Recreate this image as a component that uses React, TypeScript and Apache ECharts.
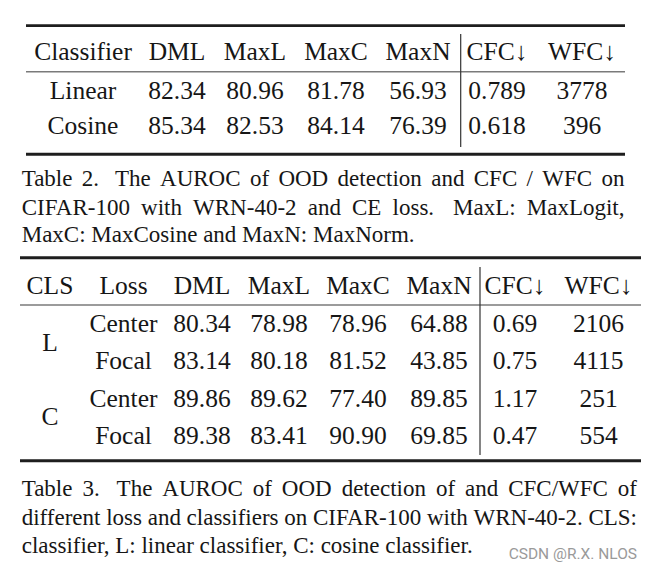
import React, { useEffect, useRef } from 'react';
import * as echarts from 'echarts';

// ---------- Table 2 data ----------
const t2Header = ['Classifier', 'DML', 'MaxL', 'MaxC', 'MaxN', 'CFC↓', 'WFC↓'];
const t2Classifiers = ['Linear', 'Cosine'];
const t2DML = [82.34, 85.34];
const t2MaxL = [80.96, 82.53];
const t2MaxC = [81.78, 84.14];
const t2MaxN = [56.93, 76.39];
const t2CFC = [0.789, 0.618];
const t2WFC = [3778, 396];
const t2Caption = [
  'Table 2.  The AUROC of OOD detection and CFC / WFC on',
  'CIFAR-100 with WRN-40-2 and CE loss.  MaxL: MaxLogit,',
  'MaxC: MaxCosine and MaxN: MaxNorm.',
];

// ---------- Table 3 data ----------
const t3Header = ['CLS', 'Loss', 'DML', 'MaxL', 'MaxC', 'MaxN', 'CFC↓', 'WFC↓'];
const t3Classifiers = ['L', 'C'];
const t3Losses = ['Center', 'Focal', 'Center', 'Focal'];
const t3DML = [80.34, 83.14, 89.86, 89.38];
const t3MaxL = [78.98, 80.18, 89.62, 83.41];
const t3MaxC = [78.96, 81.52, 77.4, 90.9];
const t3MaxN = [64.88, 43.85, 89.85, 69.85];
const t3CFC = [0.69, 0.75, 1.17, 0.47];
const t3WFC = [2106, 4115, 251, 554];
const t3Caption = [
  'Table 3.  The AUROC of OOD detection of and CFC/WFC of',
  'different loss and classifiers on CIFAR-100 with WRN-40-2. CLS:',
  'classifier, L: linear classifier, C: cosine classifier.',
];
const watermark = 'CSDN @R.X. NLOS';

// ---------- layout ----------
const SERIF = '"Liberation Serif", "Times New Roman", "DejaVu Serif", serif';
const FS = 25.5;
const CFS = 23;
const INK = '#161616';

function txt(s: string, x: number, baseline: number, fs: number, align = 'center', fill = INK, family = SERIF): any {
  return {
    type: 'text',
    x,
    y: baseline - 0.3375 * fs,
    silent: true,
    style: {
      text: s,
      fontSize: fs,
      fontFamily: family,
      fill,
      textAlign: align,
      textVerticalAlign: 'middle',
      align,
      verticalAlign: 'middle',
    },
  };
}

function hline(x1: number, x2: number, y: number, w: number, color: string): any {
  return { type: 'line', silent: true, shape: { x1, y1: y, x2, y2: y }, style: { stroke: color, lineWidth: w } };
}
function vline(x: number, y1: number, y2: number, w: number, color: string): any {
  return { type: 'line', silent: true, shape: { x1: x, y1, x2: x, y2 }, style: { stroke: color, lineWidth: w } };
}

let measureCtx: CanvasRenderingContext2D | null = null;
function measure(s: string, fs: number): number {
  if (!measureCtx) measureCtx = document.createElement('canvas').getContext('2d');
  measureCtx!.font = `${fs}px "Liberation Serif"`;
  return measureCtx!.measureText(s).width;
}

function captionLine(line: string, x0: number, x1: number, baseline: number, fs: number, justify: boolean): any[] {
  const tokens = line.split(/( +)/);
  const words: string[] = [];
  const weights: number[] = [];
  tokens.forEach((t, i) => {
    if (i % 2 === 0) words.push(t);
    else weights.push(t.length > 1 ? 1.7 : 1);
  });
  const spaceW = measure(' ', fs);
  const widths = words.map((w) => measure(w, fs));
  const totalW = widths.reduce((a, b) => a + b, 0);
  const totalWeight = weights.reduce((a, b) => a + b, 0);
  let unit = spaceW;
  if (justify && totalWeight > 0) unit = (x1 - x0 - totalW) / totalWeight;
  const out: any[] = [];
  let x = x0;
  words.forEach((w, i) => {
    out.push(txt(w, x, baseline, fs, 'left'));
    x += widths[i] + (i < weights.length ? weights[i] * unit : 0);
  });
  return out;
}

const f2 = (v: number) => v.toFixed(2);
const f3 = (v: number) => v.toFixed(3);
const f0 = (v: number) => v.toFixed(0);

function buildGraphics(): any[] {
  const g: any[] = [];

  // ----- Table 2 -----
  const c2 = [83, 177, 255, 336, 418, 497, 582];
  const t2L = 26, t2R = 625;
  g.push(hline(t2L, t2R, 25.7, 2.7, '#1e1e1e'));
  g.push(hline(t2L, t2R, 71.7, 1.6, '#7a7a7a'));
  g.push(hline(t2L, t2R, 154.3, 2.9, '#1e1e1e'));
  g.push(vline(460.7, 34, 147, 1.2, '#333'));
  t2Header.forEach((h, i) => g.push(txt(h, c2[i], 60, FS)));
  const t2Base = [99, 134.3];
  t2Classifiers.forEach((name, r) => {
    const y = t2Base[r];
    g.push(txt(name, c2[0], y, FS));
    g.push(txt(f2(t2DML[r]), c2[1], y, FS));
    g.push(txt(f2(t2MaxL[r]), c2[2], y, FS));
    g.push(txt(f2(t2MaxC[r]), c2[3], y, FS));
    g.push(txt(f2(t2MaxN[r]), c2[4], y, FS));
    g.push(txt(f3(t2CFC[r]), c2[5], y, FS));
    g.push(txt(f0(t2WFC[r]), c2[6], y, FS));
  });
  const cap2Base = [186, 215, 242.7];
  t2Caption.forEach((line, i) => {
    g.push(...captionLine(line, 21.7, 624.5, cap2Base[i], CFS, i < t2Caption.length - 1));
  });

  // ----- Table 3 -----
  const c3 = [50, 123.5, 202, 279, 358, 439, 515, 598.5];
  const t3L = 20, t3R = 641;
  g.push(hline(t3L, t3R, 257.7, 2.9, '#1e1e1e'));
  g.push(hline(t3L, t3R, 305, 1.6, '#7a7a7a'));
  g.push(hline(t3L, t3R, 460.8, 3, '#1e1e1e'));
  g.push(vline(480, 267, 455, 1.2, '#333'));
  t3Header.forEach((h, i) => g.push(txt(h, c3[i], 294.3, FS)));
  const t3Base = [332.3, 369.3, 406.7, 444];
  t3Classifiers.forEach((cls, k) => {
    const mid = (t3Base[2 * k] + t3Base[2 * k + 1]) / 2;
    g.push(txt(cls, c3[0], mid, FS));
  });
  t3Losses.forEach((loss, r) => {
    const y = t3Base[r];
    g.push(txt(loss, c3[1], y, FS));
    g.push(txt(f2(t3DML[r]), c3[2], y, FS));
    g.push(txt(f2(t3MaxL[r]), c3[3], y, FS));
    g.push(txt(f2(t3MaxC[r]), c3[4], y, FS));
    g.push(txt(f2(t3MaxN[r]), c3[5], y, FS));
    g.push(txt(f2(t3CFC[r]), c3[6], y, FS));
    g.push(txt(f0(t3WFC[r]), c3[7], y, FS));
  });
  const cap3Base = [496, 525, 553.3];
  t3Caption.forEach((line, i) => {
    g.push(...captionLine(line, 21.7, 637, cap3Base[i], CFS, i < t3Caption.length - 1));
  });

  g.push(txt(watermark, 637, 559, 15.5, 'right', '#9a9a9a', 'Roboto, "Liberation Sans", sans-serif'));
  return g;
}

export default function App() {
  const ref = useRef<HTMLDivElement>(null);
  useEffect(() => {
    if (!ref.current) return;
    const chart = echarts.init(ref.current, undefined, { renderer: 'svg' });
    chart.setOption({
      animation: false,
      backgroundColor: '#ffffff',
      graphic: { elements: buildGraphics() },
    });
    return () => chart.dispose();
  }, []);
  return (
    <div
      ref={ref}
      style={{ position: 'fixed', left: 0, top: 0, width: 651, height: 566, background: '#fff' }}
    />
  );
}
